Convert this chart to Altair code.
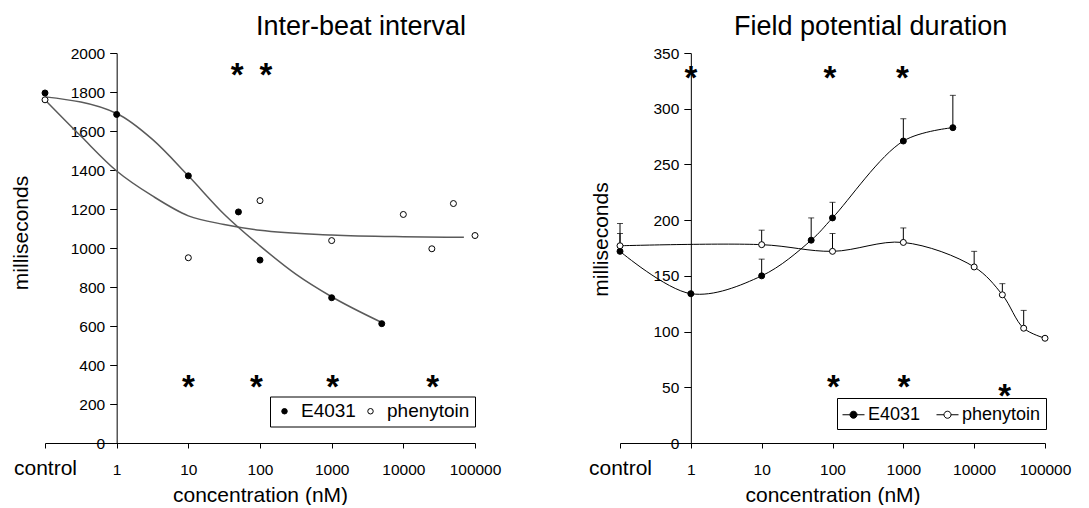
import altair as alt
import pandas as pd

FONT = "Liberation Sans"
DRUGS = ["E4031", "phenytoin"]

# ---------------- Inter-beat interval (left panel) ----------------
ibi_e_conc = [0, 1, 10, 50, 100, 1000, 5000]          # 0 = control
ibi_e_ms = [1795, 1685, 1370, 1185, 938, 745, 612]
ibi_p_conc = [0, 10, 100, 1000, 10000, 25000, 50000, 100000]
ibi_p_ms = [1760, 950, 1243, 1038, 1172, 996, 1228, 1064]
# fitted curves
fit_e_conc = [0, 1, 3.16, 10, 31.6, 100, 316, 1000, 5000]
fit_e_ms = [1775, 1690, 1557, 1370, 1173, 1011, 866, 750, 618]
fit_p_conc = [0, 0.316, 1, 3.16, 10, 31.6, 100, 1000, 10000, 70000]
fit_p_ms = [1760, 1574, 1395, 1267, 1165, 1121, 1091, 1067, 1058, 1055]
# significance asterisks
ibi_star_conc = [48, 121, 10, 89, 1030, 25700]
ibi_star_ms = [1924, 1924, 328, 328, 328, 328]

# ---------------- Field potential duration (right panel) ----------------
fpd_e_conc = [0, 1, 10, 50, 100, 1000, 5000]
fpd_e_ms = [172, 134, 150, 182, 202, 271, 283]
fpd_e_upper = [188, 134, 165, 202, 216, 291, 312]
fpd_p_conc = [0, 10, 100, 1000, 10000, 25000, 50000, 100000]
fpd_p_ms = [177, 178, 172, 180, 158, 133, 103, 94]
fpd_p_upper = [197, 191, 188, 193, 172, 143, 119, 94]
fpd_star_conc = [1, 92, 970, 103, 1020, 27000]
fpd_star_ms = [334, 334, 334, 57, 57, 49]

x_ticks = [-1, 0, 1, 2, 3, 4, 5]
ibi_y_ticks = list(range(0, 2001, 200))
fpd_y_ticks = list(range(0, 351, 50))


def table(drug, conc, ms, upper=None):
    d = {"drug": drug, "conc": conc, "ms": ms}
    if upper is not None:
        d["upper"] = upper
    return pd.DataFrame(d)


ibi_pts = pd.concat([table("E4031", ibi_e_conc, ibi_e_ms), table("phenytoin", ibi_p_conc, ibi_p_ms)])
ibi_fit = pd.concat([table("E4031", fit_e_conc, fit_e_ms), table("phenytoin", fit_p_conc, fit_p_ms)])
ibi_star = pd.DataFrame({"conc": ibi_star_conc, "ms": ibi_star_ms})
fpd_pts = pd.concat([table("E4031", fpd_e_conc, fpd_e_ms, fpd_e_upper),
                     table("phenytoin", fpd_p_conc, fpd_p_ms, fpd_p_upper)])
fpd_star = pd.DataFrame({"conc": fpd_star_conc, "ms": fpd_star_ms})

XCALC = "datum.conc > 0 ? log(datum.conc) / LN10 : -1"
W1, W2, H = 430, 425, 390


def x_enc(width):
    ax = alt.Axis(
        values=x_ticks,
        labelExpr="datum.value == -1 ? 'control' : format(pow(10, datum.value), 'd')",
        labelFontSize={"condition": {"test": "datum.value == -1", "value": 21}, "value": 15.5},
        labelBaseline="alphabetic", labelPadding=26, tickSize=5, labelFlush=False,
        labelOverlap=False, grid=False, domainColor="black", tickColor="black",
        labelColor="black", labelFont=FONT,
        title="concentration (nM)", titleFontSize=21, titleFontWeight="normal",
        titleFont=FONT, titleColor="black", titleY=58, titleBaseline="alphabetic",
    )
    return alt.X("lx:Q", scale=alt.Scale(domain=[-1, 5], nice=False, zero=False), axis=ax)


def y_enc(field, domain, ticks, width, title_x, title_y):
    ax = alt.Axis(
        values=ticks, format="d", offset=-width / 6, tickSize=7, labelPadding=5,
        labelFontSize=15.5, labelFont=FONT, labelColor="black", grid=False,
        domainColor="black", tickColor="black",
        title="milliseconds", titleFontSize=21, titleFontWeight="normal", titleFont=FONT,
        titleColor="black", titleX=title_x, titleY=title_y, titleAngle=270,
        titleBaseline="alphabetic", titleAlign="center",
    )
    return alt.Y(field, scale=alt.Scale(domain=domain, nice=False, zero=False), axis=ax)


def stars(df, width, yenc):
    return alt.Chart(df).transform_calculate(lx=XCALC).mark_text(
        text="*", fontSize=33, fontWeight="bold", font=FONT, baseline="alphabetic",
        dy=18.5, color="black"
    ).encode(x=x_enc(width), y=yenc)


# ---------------- left panel ----------------
yl = y_enc("ms:Q", [0, 2000], ibi_y_ticks, W1, -89, 179.5)
left_fit = alt.Chart(ibi_fit).transform_calculate(lx=XCALC).mark_line(
    interpolate="monotone", color="#5a5a5a", strokeWidth=1.5
).encode(x=x_enc(W1), y=yl, detail="drug:N")
left_pts = alt.Chart(ibi_pts).transform_calculate(lx=XCALC).mark_point(
    shape="circle", filled=True, stroke="black", strokeWidth=1, size=36, opacity=1
).encode(
    x=x_enc(W1), y=yl,
    fill=alt.Fill("drug:N", scale=alt.Scale(domain=DRUGS, range=["black", "white"]),
                  legend=alt.Legend(
                      title=None, orient="none", legendX=225, legendY=343.5,
                      direction="horizontal", strokeColor="black", fillColor="white",
                      padding=5, labelFontSize=19, labelFont=FONT, labelColor="black",
                      symbolType="circle", symbolSize=30, symbolStrokeColor="black",
                      symbolStrokeWidth=1, labelOffset=7, columnPadding=5)),
)
left = alt.layer(left_fit, left_pts, stars(ibi_star, W1, yl)).properties(
    width=W1, height=H,
    title=alt.TitleParams("Inter-beat interval", fontSize=27, fontWeight="normal", font=FONT,
                          color="black", anchor="start", frame="group", dx=211, offset=-15.5,
                          baseline="alphabetic"),
)

# ---------------- right panel ----------------
yr = y_enc("ms:Q", [0, 350], fpd_y_ticks, W2, -83.5, 186)
SYM = ("M-1,0L-0.32,0M0.32,0L1,0M-0.32,0A0.32,0.32,0,1,0,0.32,0"
       "A0.32,0.32,0,1,0,-0.32,0Z")
base_r = alt.Chart(fpd_pts).transform_calculate(lx=XCALC)
right_line = base_r.mark_line(interpolate="catmull-rom", color="black", strokeWidth=1).encode(
    x=x_enc(W2), y=yr, detail="drug:N")
right_err = base_r.transform_filter("datum.upper > datum.ms").mark_rule(
    color="black", strokeWidth=1).encode(x=x_enc(W2), y=yr, y2="upper:Q")
right_cap = base_r.transform_filter("datum.upper > datum.ms").mark_tick(
    orient="horizontal", size=6, thickness=1, color="black").encode(
    x=x_enc(W2), y=y_enc("upper:Q", [0, 350], fpd_y_ticks, W2, -83.5, 186))
right_pts = base_r.mark_point(
    shape="circle", filled=True, stroke="black", strokeWidth=1, size=36, opacity=1
).encode(
    x=x_enc(W2), y=yr,
    fill=alt.Fill("drug:N", scale=alt.Scale(domain=DRUGS, range=["black", "white"]),
                  legend=alt.Legend(
                      title=None, orient="none", legendX=217, legendY=345,
                      direction="horizontal", strokeColor="black", fillColor="white",
                      padding=5, labelFontSize=18, labelFont=FONT, labelColor="black",
                      symbolType=SYM, symbolSize=484, symbolStrokeColor="black",
                      symbolStrokeWidth=1, labelOffset=3, columnPadding=13)),
)
right = alt.layer(right_line, right_err, right_cap, right_pts, stars(fpd_star, W2, yr)).properties(
    width=W2, height=H,
    title=alt.TitleParams("Field potential duration", fontSize=27, fontWeight="normal", font=FONT,
                          color="black", anchor="start", frame="group", dx=114, offset=-15.5,
                          baseline="alphabetic"),
)

chart = alt.hconcat(left, right, spacing=87).resolve_scale(
    fill="independent", y="independent", x="independent"
).resolve_legend(fill="independent").properties(
    padding={"left": 2, "top": 4, "right": 4, "bottom": 0}
).configure(font=FONT, background="white").configure_view(strokeWidth=0, stroke="transparent")

chart.save("out.html", embed_options={"renderer": "svg", "actions": False})
